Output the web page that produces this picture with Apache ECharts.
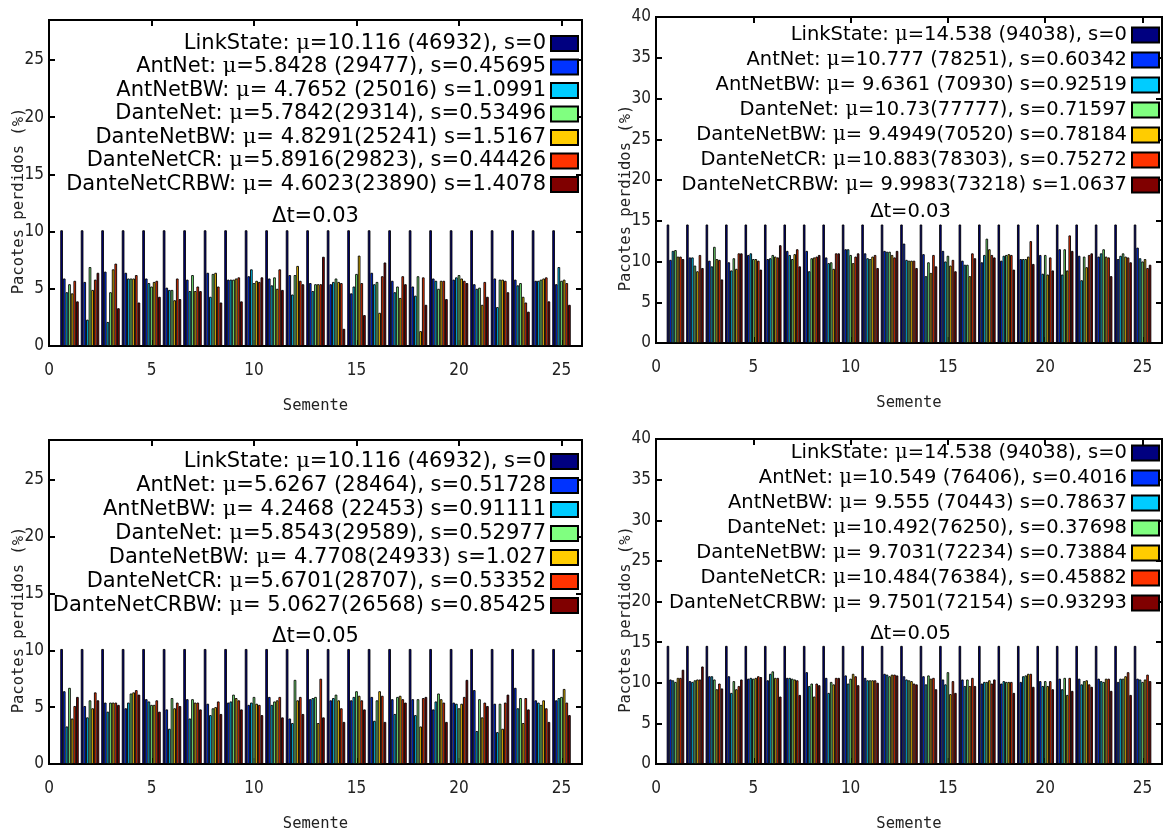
<!DOCTYPE html>
<html>
<head>
<meta charset="utf-8">
<title>Pacotes perdidos por semente</title>
<script src="https://cdn.jsdelivr.net/npm/echarts@6/dist/echarts.min.js"></script>
<style>
  html, body { margin: 0; padding: 0; background: #fff; }
  #main { width: 1165px; height: 833px; }
</style>
</head>
<body>
<div id="main"></div>
<script>
'use strict';
(function () {
    // sementes (eixo x)
    var seeds = [1, 2, 3, 4, 5, 6, 7, 8, 9, 10, 11, 12, 13, 14, 15, 16, 17, 18, 19, 20, 21, 22, 23, 24, 25];

    // ---- painel superior esquerdo, dt=0.03 ----
    var p1Labels = [
        'LinkState: μ=10.116 (46932), s=0',
        'AntNet: μ=5.8428 (29477), s=0.45695',
        'AntNetBW: μ= 4.7652 (25016) s=1.0991',
        'DanteNet: μ=5.7842(29314), s=0.53496',
        'DanteNetBW: μ= 4.8291(25241) s=1.5167',
        'DanteNetCR: μ=5.8916(29823), s=0.44426',
        'DanteNetCRBW: μ= 4.6023(23890) s=1.4078'
    ];
    var p1LinkState = [10.116, 10.116, 10.116, 10.116, 10.116, 10.116, 10.116, 10.116, 10.116, 10.116, 10.116, 10.116, 10.116, 10.116, 10.116, 10.116, 10.116, 10.116, 10.116, 10.116, 10.116, 10.116, 10.116, 10.116, 10.116];
    var p1AntNet = [5.9, 5.6, 6.5, 6.4, 5.9, 5.1, 5.8, 6.4, 5.8, 6.1, 5.9, 6.2, 5.5, 5.4, 4.6, 6.4, 5.7, 5.2, 5.9, 5.8, 5.4, 5.9, 5.8, 5.7, 5.4];
    var p1AntNetBW = [4.7, 2.3, 2.1, 5.9, 5.5, 4.9, 4.8, 4.3, 5.8, 6.7, 5.3, 4.5, 4.8, 5.6, 5.2, 5.4, 4.7, 4.4, 5.7, 6.0, 5.0, 3.4, 5.3, 5.7, 6.9];
    var p1DanteNet = [5.4, 6.9, 4.7, 5.9, 5.2, 4.9, 6.2, 6.3, 5.8, 5.5, 6.0, 6.2, 5.4, 5.9, 6.3, 5.6, 5.2, 6.1, 5.0, 6.2, 5.1, 5.8, 5.5, 5.8, 5.7];
    var p1DanteNetBW = [4.6, 4.9, 6.7, 5.9, 5.6, 4.0, 4.8, 6.4, 5.9, 5.7, 5.0, 7.0, 5.4, 5.6, 7.9, 2.9, 4.2, 1.3, 5.7, 5.9, 3.6, 5.8, 4.3, 5.9, 5.8];
    var p1DanteNetCR = [5.7, 5.8, 7.2, 6.2, 5.7, 5.9, 5.2, 5.2, 6.0, 5.6, 6.7, 5.7, 5.4, 5.5, 5.5, 6.1, 6.1, 6.0, 5.7, 5.7, 5.6, 5.7, 3.8, 6.0, 5.5];
    var p1DanteNetCRBW = [3.9, 6.4, 3.3, 3.8, 4.3, 4.1, 4.8, 3.8, 3.9, 6.0, 4.9, 5.4, 7.8, 1.5, 2.7, 7.3, 5.4, 3.6, 4.1, 5.5, 4.3, 4.7, 3.0, 3.9, 3.6];

    // ---- painel superior direito, dt=0.03 ----
    var p2Labels = [
        'LinkState: μ=14.538 (94038), s=0',
        'AntNet: μ=10.777 (78251), s=0.60342',
        'AntNetBW: μ= 9.6361 (70930) s=0.92519',
        'DanteNet: μ=10.73(77777), s=0.71597',
        'DanteNetBW: μ= 9.4949(70520) s=0.78184',
        'DanteNetCR: μ=10.883(78303), s=0.75272',
        'DanteNetCRBW: μ= 9.9983(73218) s=1.0637'
    ];
    var p2LinkState = [14.538, 14.538, 14.538, 14.538, 14.538, 14.538, 14.538, 14.538, 14.538, 14.538, 14.538, 14.538, 14.538, 14.538, 14.538, 14.538, 14.538, 14.538, 14.538, 14.538, 14.538, 14.538, 14.538, 14.538, 14.538];
    var p2AntNet = [10.2, 10.5, 10.1, 9.9, 10.8, 10.3, 11.3, 11.3, 10.5, 11.5, 11.0, 11.3, 12.2, 10.9, 11.3, 10.1, 9.9, 10.1, 10.3, 10.8, 11.5, 10.7, 10.6, 10.3, 11.7];
    var p2AntNetBW = [11.3, 10.5, 9.4, 8.9, 11.0, 10.4, 10.8, 8.8, 9.8, 11.5, 10.4, 11.2, 10.2, 8.2, 10.0, 9.6, 10.8, 10.7, 10.3, 8.5, 8.4, 7.7, 11.0, 10.7, 10.4];
    var p2DanteNet = [11.4, 9.5, 11.8, 10.4, 10.3, 10.8, 10.3, 10.4, 9.9, 10.8, 10.3, 11.2, 10.1, 9.9, 10.7, 9.6, 12.8, 10.8, 10.3, 10.8, 11.5, 10.6, 11.5, 11.0, 10.0];
    var p2DanteNetBW = [10.6, 8.8, 10.3, 9.1, 10.3, 10.6, 10.9, 10.5, 9.1, 9.8, 10.6, 10.8, 10.1, 8.6, 9.5, 8.2, 11.5, 10.9, 10.6, 8.4, 8.9, 9.3, 10.6, 10.6, 10.3];
    var p2DanteNetCR = [10.6, 10.8, 10.2, 11.0, 10.1, 10.5, 11.5, 10.6, 11.0, 10.6, 10.8, 10.5, 10.1, 10.8, 10.2, 11.0, 10.8, 10.8, 12.5, 10.5, 13.2, 10.8, 10.5, 10.5, 9.2];
    var p2DanteNetCRBW = [10.3, 9.2, 7.8, 11.0, 9.0, 12.0, 9.4, 10.8, 11.0, 11.0, 9.2, 11.3, 9.2, 9.4, 8.8, 10.4, 10.5, 9.0, 9.7, 8.9, 11.3, 11.0, 8.2, 9.9, 9.6];

    // ---- painel inferior esquerdo, dt=0.05 ----
    var p3Labels = [
        'LinkState: μ=10.116 (46932), s=0',
        'AntNet: μ=5.6267 (28464), s=0.51728',
        'AntNetBW: μ= 4.2468 (22453) s=0.91111',
        'DanteNet: μ=5.8543(29589), s=0.52977',
        'DanteNetBW: μ= 4.7708(24933) s=1.027',
        'DanteNetCR: μ=5.6701(28707), s=0.53352',
        'DanteNetCRBW: μ= 5.0627(26568) s=0.85425'
    ];
    var p3LinkState = [10.116, 10.116, 10.116, 10.116, 10.116, 10.116, 10.116, 10.116, 10.116, 10.116, 10.116, 10.116, 10.116, 10.116, 10.116, 10.116, 10.116, 10.116, 10.116, 10.116, 10.116, 10.116, 10.116, 10.116, 10.116];
    var p3AntNet = [6.4, 5.1, 5.4, 4.9, 5.7, 4.8, 5.7, 5.3, 5.4, 5.2, 5.9, 4.0, 5.7, 5.6, 5.6, 5.9, 5.7, 5.7, 4.8, 5.4, 6.5, 5.3, 6.7, 5.6, 5.6];
    var p3AntNetBW = [3.3, 4.1, 4.6, 5.4, 5.5, 3.1, 4.0, 4.3, 5.5, 5.4, 5.2, 3.6, 5.8, 5.8, 5.9, 3.8, 4.4, 4.3, 5.5, 5.3, 2.9, 2.8, 4.9, 5.4, 5.8];
    var p3DanteNet = [6.7, 5.6, 5.4, 6.2, 5.2, 5.8, 5.7, 4.9, 6.1, 5.9, 5.5, 7.4, 5.9, 6.1, 6.4, 5.6, 5.9, 5.7, 6.2, 4.9, 5.7, 5.3, 5.8, 5.2, 5.9];
    var p3DanteNetBW = [4.0, 4.9, 5.4, 6.3, 5.2, 4.9, 5.4, 5.0, 5.8, 5.3, 5.6, 5.6, 3.6, 5.6, 6.0, 6.4, 6.0, 3.3, 5.7, 5.3, 4.1, 3.1, 3.6, 5.6, 6.6];
    var p3DanteNetCR = [5.1, 6.3, 5.4, 6.5, 5.6, 5.4, 5.4, 5.5, 5.6, 5.2, 5.9, 5.9, 7.5, 4.9, 5.6, 6.0, 5.7, 5.8, 5.4, 5.9, 5.4, 5.4, 5.8, 4.9, 5.4];
    var p3DanteNetCRBW = [5.9, 5.6, 5.2, 6.1, 4.6, 5.1, 4.8, 4.4, 4.8, 4.3, 4.1, 4.4, 4.1, 3.7, 4.8, 3.7, 5.4, 5.9, 3.7, 7.4, 5.1, 6.1, 4.8, 3.7, 4.3];

    // ---- painel inferior direito, dt=0.05 ----
    var p4Labels = [
        'LinkState: μ=14.538 (94038), s=0',
        'AntNet: μ=10.549 (76406), s=0.4016',
        'AntNetBW: μ= 9.555 (70443) s=0.78637',
        'DanteNet: μ=10.492(76250), s=0.37698',
        'DanteNetBW: μ= 9.7031(72234) s=0.73884',
        'DanteNetCR: μ=10.484(76384), s=0.45882',
        'DanteNetCRBW: μ= 9.7501(72154) s=0.93293'
    ];
    var p4LinkState = [14.538, 14.538, 14.538, 14.538, 14.538, 14.538, 14.538, 14.538, 14.538, 14.538, 14.538, 14.538, 14.538, 14.538, 14.538, 14.538, 14.538, 14.538, 14.538, 14.538, 14.538, 14.538, 14.538, 14.538, 14.538];
    var p4AntNet = [10.4, 10.2, 10.8, 10.8, 10.5, 10.3, 10.6, 11.3, 10.6, 10.9, 10.6, 11.1, 10.8, 10.8, 10.4, 10.4, 9.9, 9.9, 10.1, 10.2, 10.5, 10.5, 10.5, 10.1, 10.5];
    var p4AntNetBW = [10.3, 10.1, 10.8, 8.75, 10.6, 11.1, 10.6, 9.6, 8.75, 9.9, 10.3, 11.0, 10.4, 9.8, 9.8, 9.6, 10.1, 10.2, 10.8, 9.6, 9.2, 9.8, 10.2, 10.5, 10.4];
    var p4DanteNet = [10.1, 10.3, 10.4, 10.2, 10.5, 11.4, 10.5, 9.9, 10.1, 10.5, 10.3, 10.8, 10.3, 10.9, 11.3, 10.4, 10.1, 10.1, 10.9, 10.2, 10.6, 10.2, 10.1, 10.5, 10.1];
    var p4DanteNetBW = [10.6, 10.4, 9.2, 9.2, 10.6, 10.6, 10.4, 8.3, 9.8, 11.1, 10.3, 11.0, 10.2, 10.5, 8.6, 9.6, 10.3, 10.1, 11.1, 9.6, 8.5, 10.3, 10.5, 10.8, 10.4];
    var p4DanteNetCR = [10.6, 10.4, 9.9, 9.6, 10.8, 10.6, 10.3, 9.9, 10.6, 10.8, 10.3, 11.0, 9.9, 10.6, 10.2, 10.6, 9.9, 10.1, 11.1, 10.2, 10.6, 9.8, 10.5, 11.3, 11.0];
    var p4DanteNetCRBW = [11.6, 12.0, 9.3, 10.4, 10.7, 8.3, 8.5, 9.7, 10.6, 9.7, 10.0, 10.9, 9.8, 9.2, 8.75, 9.6, 10.4, 8.75, 9.5, 9.2, 9.0, 9.5, 9.0, 8.5, 10.2];

    var colors = ['#000080', '#0033ff', '#00ccff', '#80ff80', '#ffcc00', '#ff3300', '#800000'];

    // posicao de cada painel (px)
    var panels = [
        { left: 49, top: 20, width: 533, height: 326, ymax: 28.5, dt: 'Δt=0.03', dtY: 217,
          legRight: 586, legTop: 33, legGap: 2.5, font: 21, labels: p1Labels,
          values: [p1LinkState, p1AntNet, p1AntNetBW, p1DanteNet, p1DanteNetBW, p1DanteNetCR, p1DanteNetCRBW] },
        { left: 656, top: 17, width: 509, height: 326, ymax: 40, dt: 'Δt=0.03', dtY: 212,
          legRight: 5, legTop: 25, legGap: 5, font: 19.5, labels: p2Labels,
          values: [p2LinkState, p2AntNet, p2AntNetBW, p2DanteNet, p2DanteNetBW, p2DanteNetCR, p2DanteNetCRBW] },
        { left: 49, top: 440, width: 533, height: 326, ymax: 28.5, dt: 'Δt=0.05', dtY: 637,
          legRight: 586, legTop: 451, legGap: 3, font: 21, labels: p3Labels,
          values: [p3LinkState, p3AntNet, p3AntNetBW, p3DanteNet, p3DanteNetBW, p3DanteNetCR, p3DanteNetCRBW] },
        { left: 656, top: 439, width: 509, height: 326, ymax: 40, dt: 'Δt=0.05', dtY: 634,
          legRight: 5, legTop: 443, legGap: 5, font: 19.5, labels: p4Labels,
          values: [p4LinkState, p4AntNet, p4AntNetBW, p4DanteNet, p4DanteNetBW, p4DanteNetCR, p4DanteNetCRBW] }
    ];

    var tickFont = 'DejaVu Sans Condensed, Liberation Sans Narrow, sans-serif';
    var monoFont = 'DejaVu Sans Mono, monospace';
    // so rotula os multiplos de 5 (esconde o rotulo do extremo do eixo)
    var fiveOnly = function (v) { return v % 5 === 0 ? String(v) : ''; };

    var grid = [], xAxis = [], yAxis = [], series = [], legend = [], graphic = [];

    panels.forEach(function (p, g) {
        grid.push({
            left: p.left, top: p.top, width: p.width, height: p.height,
            show: true, borderColor: '#000', borderWidth: 2
        });
        // eixo x de baixo
        xAxis.push({
            gridIndex: g, type: 'value', min: 0, max: 26, interval: 5,
            position: 'bottom',
            name: 'Semente', nameLocation: 'middle', nameGap: 52,
            nameTextStyle: { fontFamily: monoFont, fontSize: 15.5, color: '#222' },
            axisLine: { show: true, onZero: false, lineStyle: { color: '#000', width: 2 } },
            axisTick: { show: true, inside: true, length: 6, lineStyle: { color: '#000', width: 2 } },
            axisLabel: { fontFamily: tickFont, fontSize: 17, color: '#222', margin: 16, formatter: fiveOnly },
            splitLine: { show: false }
        });
        // espelho em cima (so marcas)
        xAxis.push({
            gridIndex: g, type: 'value', min: 0, max: 26, interval: 5,
            position: 'top',
            axisLine: { show: true, onZero: false, lineStyle: { color: '#000', width: 2 } },
            axisTick: { show: true, inside: true, length: 6, lineStyle: { color: '#000', width: 2 } },
            axisLabel: { show: false },
            splitLine: { show: false }
        });
        yAxis.push({
            gridIndex: g, type: 'value', min: 0, max: p.ymax, interval: 5,
            position: 'left',
            name: 'Pacotes perdidos (%)', nameLocation: 'middle', nameGap: 22,
            nameMoveOverlap: false,
            nameTextStyle: { fontFamily: monoFont, fontSize: 15.5, color: '#222', padding: [0, 36, 0, 0] },
            axisLine: { show: true, onZero: false, lineStyle: { color: '#000', width: 2 } },
            axisTick: { show: true, inside: true, length: 6, lineStyle: { color: '#000', width: 2 } },
            axisLabel: { fontFamily: tickFont, fontSize: 17, color: '#222', margin: 5, formatter: fiveOnly },
            splitLine: { show: false }
        });
        yAxis.push({
            gridIndex: g, type: 'value', min: 0, max: p.ymax, interval: 5,
            position: 'right',
            axisLine: { show: true, onZero: false, lineStyle: { color: '#000', width: 2 } },
            axisTick: { show: true, inside: true, length: 6, lineStyle: { color: '#000', width: 2 } },
            axisLabel: { show: false },
            splitLine: { show: false }
        });

        p.values.forEach(function (vals, k) {
            series.push({
                type: 'bar',
                name: p.labels[k],
                xAxisIndex: 2 * g,
                yAxisIndex: 2 * g,
                barGap: '0%',
                barCategoryGap: '10%',
                data: seeds.map(function (s, i) { return [s, vals[i]]; }),
                itemStyle: { color: colors[k], borderColor: '#000', borderWidth: 0.9 },
                emphasis: { disabled: true }
            });
        });

        legend.push({
            orient: 'vertical',
            align: 'right',
            right: p.legRight,
            top: p.legTop,
            padding: 0,
            itemWidth: 27,
            itemHeight: 15,
            itemGap: p.legGap,
            icon: 'rect',
            selectedMode: false,
            data: p.labels,
            formatter: function (name) { return name.replace('μ', '{m|μ}'); },
            textStyle: {
                fontFamily: 'DejaVu Sans', fontSize: p.font, color: '#000',
                rich: { m: { fontFamily: 'DejaVu Serif', fontSize: p.font, color: '#000' } }
            }
        });

        graphic.push({
            type: 'text',
            x: p.left + p.width / 2,
            y: p.dtY,
            style: {
                text: p.dt, align: 'center', verticalAlign: 'middle',
                fontFamily: 'DejaVu Sans', fontSize: p.font, fill: '#000'
            }
        });
    });

    var myChart = echarts.init(document.getElementById('main'), null, { renderer: 'canvas' });
    myChart.setOption({
        animation: false,
        backgroundColor: '#fff',
        grid: grid,
        xAxis: xAxis,
        yAxis: yAxis,
        legend: legend,
        graphic: graphic,
        series: series
    });
})();
</script>
</body>
</html>
